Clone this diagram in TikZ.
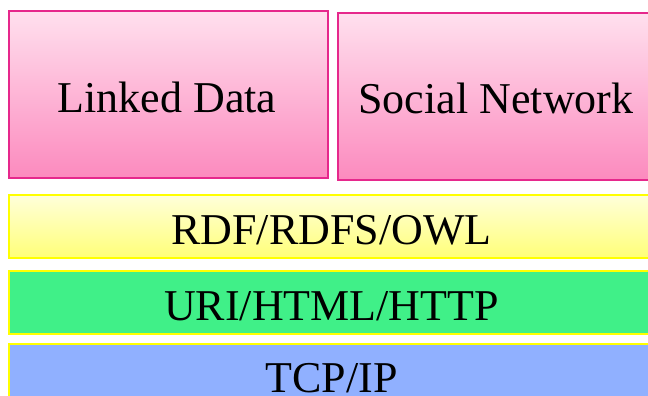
\documentclass[tikz,border=0pt]{standalone}
\usepackage{fontspec}
\setmainfont{Liberation Serif}
\definecolor{pinkTop}{RGB}{255,224,238}
\definecolor{pinkBot}{RGB}{252,138,190}
\definecolor{pinkLine}{RGB}{230,40,140}
\definecolor{yelTop}{RGB}{255,255,218}
\definecolor{yelBot}{RGB}{255,255,120}
\definecolor{yelLine}{RGB}{255,255,0}
\definecolor{greenFill}{RGB}{64,240,136}
\definecolor{blueFill}{RGB}{144,176,255}
\tikzset{
  topbox/.style={draw=pinkLine, line width=1.8pt, top color=pinkTop, bottom color=pinkBot, anchor=north west, inner sep=0pt},
  layerbox/.style={draw=yelLine, line width=1.8pt, anchor=north west, inner sep=0pt, minimum width=647pt, minimum height=63pt},
  boxtext/.style={anchor=base, inner sep=0pt, font=\fontsize{44}{48}\selectfont}
}
\begin{document}
\begin{tikzpicture}[x=1pt,y=-1pt]
\useasboundingbox (0,0) rectangle (648,396);
\node[topbox, minimum width=319pt, minimum height=167pt] (ld) at (8,10) {};
\node[topbox, minimum width=318pt, minimum height=167pt] (sn) at (337,12) {};
\node[layerbox, top color=yelTop, bottom color=yelBot] (rdf) at (8,194) {};
\node[layerbox, fill=greenFill] (uri) at (8,270) {};
\node[layerbox, fill=blueFill] (tcp) at (8,343) {};
\node[boxtext] (ldt) at (167,112) {Linked Data};
\node[boxtext] (snt) at (496,113) {Social Network};
\node[boxtext] (rdft) at (331.5,244) {RDF/RDFS/OWL};
\node[boxtext] (urit) at (331.5,320) {URI/HTML/HTTP};
\node[boxtext] (tcpt) at (331.5,392) {TCP/IP};
\end{tikzpicture}
\end{document}
